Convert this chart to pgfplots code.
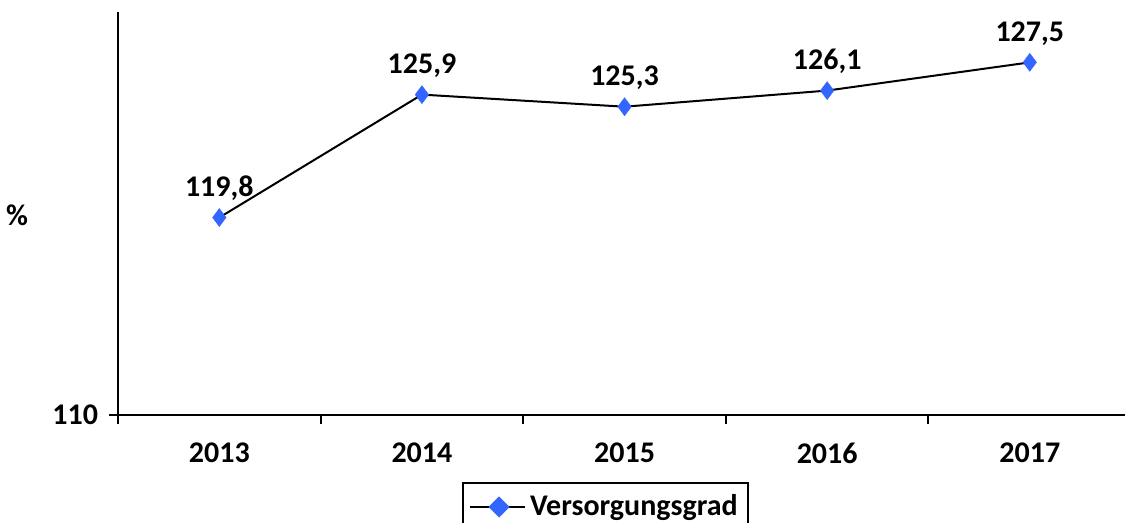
\documentclass[border=0pt]{standalone}
\usepackage{pgfplots}
\pgfplotsset{compat=1.18}
\usepackage{fontspec}
\setmainfont{Carlito}
\definecolor{markblue}{HTML}{3366FF}
\newcommand{\lblfont}{\fontsize{15bp}{17bp}\selectfont\bfseries}
\begin{document}
\begin{tikzpicture}
\useasboundingbox (-59bp,-54bp) rectangle (503.5bp,207.5bp);
\begin{axis}[
  at={(0,0)}, anchor=south west,
  scale only axis,
  width=503.5bp, height=201.5bp,
  xmin=-0.5, xmax=4.47,
  ymin=110, ymax=130,
  axis x line=bottom, axis y line=left,
  axis line style={-, line width=1bp},
  xtick={0,1,2,3,4},
  xticklabels={2013,2014,2015,2016,2017},
  major x tick style={draw=none},
  minor xtick={-0.5,0.5,1.5,2.5,3.5},
  minor x tick style={line width=1bp, black},
  minor tick length=4.5bp,
  ytick={110},
  y tick style={line width=1bp, black},
  major tick length=4.5bp,
  tick align=outside,
  font=\lblfont,
  ticklabel style={font=\lblfont},
  /pgf/number format/assume math mode=true,
  xticklabel style={yshift=-6bp},
  yticklabel style={xshift=-2bp},
  clip=false,
  nodes near coords,
  point meta=explicit symbolic,
  every node near coord/.append style={font=\lblfont, yshift=5bp},
  legend style={at={(0.484,-0.166)}, anchor=north, draw=black, line width=1bp,
    font=\lblfont, inner xsep=3bp, inner ysep=4bp,
    legend cell align=left},
  legend image code/.code={
    \draw[black, line width=1bp] (0bp,0bp) -- (27.5bp,0bp);
    \fill[markblue] (14.5bp,4.6bp) -- (19.1bp,0bp) -- (14.5bp,-4.6bp) -- (9.9bp,0bp) -- cycle;
  },
]
\addplot[black, line width=1bp, mark=diamond*, mark size=4.5bp,
  mark options={fill=markblue, draw=markblue, line width=0.2bp}]
  coordinates {(0,119.8)[119,8] (1,125.9)[125,9] (2,125.3)[125,3] (3,126.1)[126,1] (4,127.5)[127,5]};
\addlegendentry{Versorgungsgrad}
\end{axis}
\node[font=\lblfont] at (-50.5bp,100bp) {\%};
\end{tikzpicture}
\end{document}
